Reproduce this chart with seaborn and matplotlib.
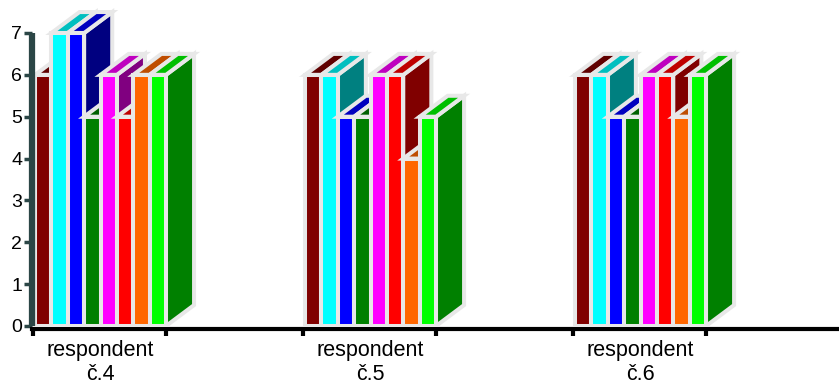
import matplotlib
matplotlib.use("Agg")
import numpy as np
import pandas as pd
import matplotlib.pyplot as plt
from matplotlib.patches import Polygon
from matplotlib.colors import to_rgb
import seaborn as sns

# Categories and the eight answer series for each respondent
respondents = ["respondent\nč.4", "respondent\nč.5", "respondent\nč.6"]
series_names = ["řada 1", "řada 2", "řada 3", "řada 4",
                "řada 5", "řada 6", "řada 7", "řada 8"]
values_c4 = [6, 7, 7, 5, 6, 5, 6, 6]
values_c5 = [6, 6, 5, 5, 6, 6, 4, 5]
values_c6 = [6, 6, 5, 5, 6, 6, 5, 6]
bar_colors = ["#800000", "#00FFFF", "#0000FF", "#008000",
              "#FF00FF", "#FF0000", "#FF6600", "#00FF00"]
y_ticks = [0, 1, 2, 3, 4, 5, 6, 7]

rows = []
for resp, vals in zip(respondents, [values_c4, values_c5, values_c6]):
    for name, v in zip(series_names, vals):
        rows.append({"respondent": resp, "řada": name, "hodnota": v})
df = pd.DataFrame(rows)

sns.set_theme(style="white")
plt.rcParams["font.family"] = ["Liberation Sans", "DejaVu Sans"]

EDGE = "#e8e8e8"
EDGE_W = 2.9
AXIS_SLATE = "#2b4646"
DEPTH_X = 0.104   # horizontal shift of the bar backs (category units)
DEPTH_Y = 0.50    # vertical shift of the bar backs (value units)
GROUP_W = 0.485

fig = plt.figure(figsize=(8.39, 3.85), dpi=100)
ax = fig.add_axes([32 / 839, 59 / 385, 807 / 839, 326 / 385])

sns.barplot(data=df, x="respondent", y="hodnota", hue="řada",
            palette=bar_colors, width=GROUP_W, errorbar=None, legend=False,
            saturation=1, edgecolor=EDGE, linewidth=EDGE_W, ax=ax)

# Add the top and right faces that give the bars their block look
for i, cont in enumerate(ax.containers):
    base = np.array(to_rgb(bar_colors[i]))
    top_c = base * 0.75
    side_c = base * 0.5
    z = 2 + i * 0.1
    for p in cont.patches:
        x0, w, h = p.get_x(), p.get_width(), p.get_height()
        side = Polygon([(x0 + w, 0), (x0 + w, h), (x0 + w + DEPTH_X, h + DEPTH_Y),
                        (x0 + w + DEPTH_X, DEPTH_Y)], closed=True,
                       facecolor=side_c, edgecolor=EDGE, linewidth=EDGE_W,
                       joinstyle="miter", zorder=z)
        top = Polygon([(x0, h), (x0 + w, h), (x0 + w + DEPTH_X, h + DEPTH_Y),
                       (x0 + DEPTH_X, h + DEPTH_Y)], closed=True,
                      facecolor=top_c, edgecolor=EDGE, linewidth=EDGE_W,
                      joinstyle="miter", zorder=z + 0.01)
        ax.add_patch(side)
        ax.add_patch(top)
        p.set_zorder(z + 0.02)

ax.set_xlim(-0.2537, 2.735)
ax.set_ylim(0, 7.788)

sns.despine(ax=ax, top=True, right=True)
ax.spines["left"].set_color(AXIS_SLATE)
ax.spines["left"].set_linewidth(4.5)
ax.spines["left"].set_bounds(0, 7)
ax.spines["left"].set_capstyle("butt")
ax.spines["bottom"].set_color("black")
ax.spines["bottom"].set_linewidth(3)
ax.spines["bottom"].set_position(("outward", 2))
ax.spines["left"].set_zorder(5)
ax.spines["bottom"].set_zorder(5)

ax.set_yticks(y_ticks)
ax.set_yticklabels([str(t) for t in y_ticks], fontsize=14, color="black")
ax.tick_params(axis="y", which="major", direction="out", length=6, width=2.5,
               color=AXIS_SLATE, pad=1.0, left=True)

ax.set_xticks(range(len(respondents)))
ax.set_xticklabels(respondents, fontsize=15.5, linespacing=1.2, color="black")
ax.tick_params(axis="x", which="major", length=0, pad=8, bottom=True)
edges = []
for g in range(len(respondents)):
    edges += [g - 0.25, g + GROUP_W / 2]
ax.set_xticks(edges, minor=True)
ax.tick_params(axis="x", which="minor", direction="out", length=5, width=3,
               color="black", bottom=True)

ax.set_xlabel("")
ax.set_ylabel("")
ax.grid(False)

fig.savefig("out.png", dpi=100)
